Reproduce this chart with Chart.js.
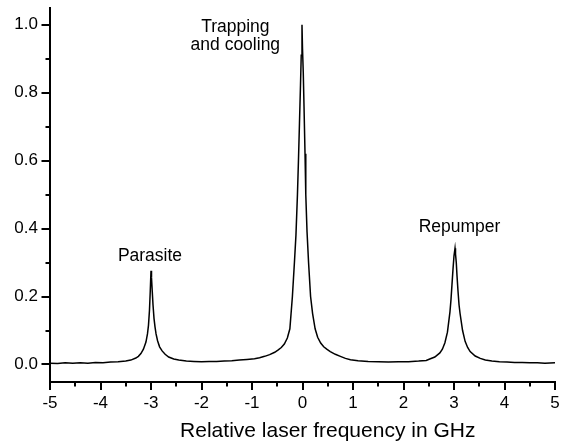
<!DOCTYPE html>
<html>
<head>
<meta charset="utf-8">
<script src="https://cdn.jsdelivr.net/npm/chart.js@4/dist/chart.umd.min.js"></script>
<style>
  body { margin: 0; background: #fff; }
</style>
</head>
<body>
<canvas id="spectrum" width="566" height="441"></canvas>
<script>
// Laser frequency scan (GHz) and normalised signal
var freqGHz = [
  -5.00, -4.85, -4.70, -4.55, -4.40, -4.25, -4.10, -3.95, -3.80, -3.65,
  -3.50, -3.40, -3.30, -3.25, -3.20, -3.15, -3.10, -3.07, -3.05, -3.03,
  -3.015, -3.00, -2.99, -2.975, -2.96, -2.94, -2.92, -2.90, -2.87, -2.83,
  -2.78, -2.72, -2.65, -2.55, -2.45, -2.30, -2.15, -2.00, -1.85, -1.70,
  -1.55, -1.40, -1.25, -1.10, -0.95, -0.85, -0.75, -0.65, -0.55, -0.48,
  -0.42, -0.36, -0.30, -0.25, -0.20, -0.16, -0.13, -0.10, -0.08, -0.06,
  -0.04, -0.025, -0.01, 0.00, 0.015, 0.03, 0.05, 0.065, 0.09, 0.12,
  0.16, 0.20, 0.25, 0.30, 0.36, 0.42, 0.48, 0.55, 0.65, 0.75,
  0.85, 0.95, 1.10, 1.30, 1.50, 1.70, 1.90, 2.10, 2.30, 2.45,
  2.52, 2.62, 2.72, 2.77, 2.82, 2.87, 2.92, 2.94, 2.96, 2.98,
  3.00, 3.02, 3.03, 3.045, 3.06, 3.08, 3.10, 3.12, 3.17, 3.22,
  3.27, 3.32, 3.42, 3.52, 3.62, 3.75, 3.90, 4.05, 4.20, 4.35,
  4.50, 4.65, 4.80, 5.00
];
var signal = [
  0.004, 0.003, 0.005, 0.004, 0.005, 0.004, 0.006, 0.005, 0.007, 0.008,
  0.010, 0.013, 0.019, 0.024, 0.032, 0.045, 0.066, 0.090, 0.115, 0.160,
  0.215, 0.276, 0.255, 0.215, 0.175, 0.135, 0.110, 0.090, 0.070, 0.052,
  0.040, 0.030, 0.022, 0.016, 0.013, 0.010, 0.009, 0.008, 0.009, 0.009,
  0.010, 0.011, 0.013, 0.015, 0.017, 0.020, 0.024, 0.029, 0.036, 0.043,
  0.050, 0.060, 0.078, 0.105, 0.200, 0.300, 0.380, 0.500, 0.600, 0.710,
  0.820, 0.910, 1.000, 0.930, 0.860, 0.760, 0.620, 0.500, 0.390, 0.300,
  0.200, 0.150, 0.105, 0.080, 0.063, 0.052, 0.045, 0.038, 0.030, 0.024,
  0.018, 0.014, 0.011, 0.009, 0.008, 0.007, 0.008, 0.008, 0.010, 0.012,
  0.016, 0.022, 0.034, 0.045, 0.064, 0.095, 0.155, 0.190, 0.235, 0.280,
  0.320, 0.342, 0.325, 0.300, 0.260, 0.215, 0.175, 0.150, 0.100, 0.068,
  0.050, 0.038, 0.025, 0.018, 0.013, 0.010, 0.008, 0.007, 0.006, 0.006,
  0.005, 0.005, 0.004, 0.005
];

// axis ticks
var xMajorTicks = [-5, -4, -3, -2, -1, 0, 1, 2, 3, 4, 5];
var xMinorTicks = [-4.5, -3.5, -2.5, -1.5, -0.5, 0.5, 1.5, 2.5, 3.5, 4.5];
var yMajorTicks = [0, 0.2, 0.4, 0.6, 0.8, 1.0];
var yMinorTicks = [0.1, 0.3, 0.5, 0.7, 0.9];

// peak labels: text lines, centre frequency, baseline signal level
var peakNames = [['Parasite'], ['Trapping', 'and cooling'], ['Repumper']];
var peakLabelX = [-3.02, -1.33, 3.11];
var peakLabelY = [0.306, 0.978, 0.391];

var xAxisTitle = 'Relative laser frequency in GHz';

var fontFamily = '"Liberation Sans", Arial, sans-serif';

var points = freqGHz.map(function(f, i) {
  return { x: f, y: signal[i] };
});

// the axes keep a fixed size and leave no room for label overhang
function fixBox(scale, w, h) {
  if (w) scale.width = w;
  if (h) scale.height = h;
  scale.paddingTop = 0;
  scale.paddingBottom = 0;
  scale.paddingLeft = 0;
  scale.paddingRight = 0;
}

// outward tick marks, long for major and short for minor
var tickMarks = {
  id: 'tickMarks',
  afterDraw: function(chart) {
    var ctx = chart.ctx;
    var xs = chart.scales.x;
    var ys = chart.scales.y;
    var area = chart.chartArea;
    ctx.save();
    ctx.strokeStyle = '#000';
    ctx.lineWidth = 2;
    ctx.beginPath();
    xMajorTicks.forEach(function(v) {
      var px = Math.round(xs.getPixelForValue(v));
      ctx.moveTo(px, area.bottom);
      ctx.lineTo(px, area.bottom + 8);
    });
    xMinorTicks.forEach(function(v) {
      var px = Math.round(xs.getPixelForValue(v));
      ctx.moveTo(px, area.bottom);
      ctx.lineTo(px, area.bottom + 4.5);
    });
    yMajorTicks.forEach(function(v) {
      var py = Math.round(ys.getPixelForValue(v));
      ctx.moveTo(area.left, py);
      ctx.lineTo(area.left - 8.5, py);
    });
    yMinorTicks.forEach(function(v) {
      var py = Math.round(ys.getPixelForValue(v));
      ctx.moveTo(area.left, py);
      ctx.lineTo(area.left - 4.5, py);
    });
    ctx.stroke();
    ctx.restore();
  }
};

// text next to each peak, plus the x axis title (sits a little right of centre)
var peakLabels = {
  id: 'peakLabels',
  afterDatasetsDraw: function(chart) {
    var ctx = chart.ctx;
    var xs = chart.scales.x;
    var ys = chart.scales.y;
    ctx.save();
    ctx.fillStyle = '#000';
    ctx.font = '17.5px ' + fontFamily;
    ctx.textAlign = 'center';
    ctx.textBaseline = 'alphabetic';
    peakNames.forEach(function(lines, i) {
      var px = xs.getPixelForValue(peakLabelX[i]);
      var py = ys.getPixelForValue(peakLabelY[i]);
      lines.forEach(function(line, j) {
        ctx.fillText(line, px, py + j * 17.5);
      });
    });
    ctx.font = '21px ' + fontFamily;
    ctx.fillText(xAxisTitle, xs.getPixelForValue(0.5), chart.chartArea.bottom + 55);
    ctx.restore();
  }
};

var ctx = document.getElementById('spectrum').getContext('2d');
var spectrumChart = new Chart(ctx, {
  type: 'line',
  data: {
    datasets: [{
      data: points,
      borderColor: '#000',
      borderWidth: 1.5,
      pointRadius: 0,
      tension: 0,
      fill: false
    }]
  },
  options: {
    responsive: false,
    animation: false,
    devicePixelRatio: 1,
    layout: { padding: { top: 8, right: 11, left: 0, bottom: 0 } },
    plugins: {
      legend: { display: false },
      tooltip: { enabled: false }
    },
    scales: {
      x: {
        type: 'linear',
        min: -5,
        max: 5,
        afterBuildTicks: function(scale) {
          scale.ticks = xMajorTicks.map(function(v) { return { value: v }; });
        },
        afterFit: function(scale) { fixBox(scale, 0, 59); },
        grid: { drawOnChartArea: false, drawTicks: false },
        border: { color: '#000', width: 2 },
        ticks: {
          color: '#000',
          padding: 11,
          maxRotation: 0,
          font: { family: fontFamily, size: 17 },
          callback: function(v) { return String(v); }
        }
      },
      y: {
        type: 'linear',
        min: -0.0515,
        max: 1.049,
        afterBuildTicks: function(scale) {
          scale.ticks = yMajorTicks.map(function(v) { return { value: v }; });
        },
        afterFit: function(scale) { fixBox(scale, 50, 0); },
        grid: { drawOnChartArea: false, drawTicks: false },
        border: { color: '#000', width: 2 },
        ticks: {
          color: '#000',
          padding: 12,
          font: { family: fontFamily, size: 17 },
          callback: function(v) { return v.toFixed(1); }
        }
      }
    }
  },
  plugins: [tickMarks, peakLabels]
});
</script>
</body>
</html>
